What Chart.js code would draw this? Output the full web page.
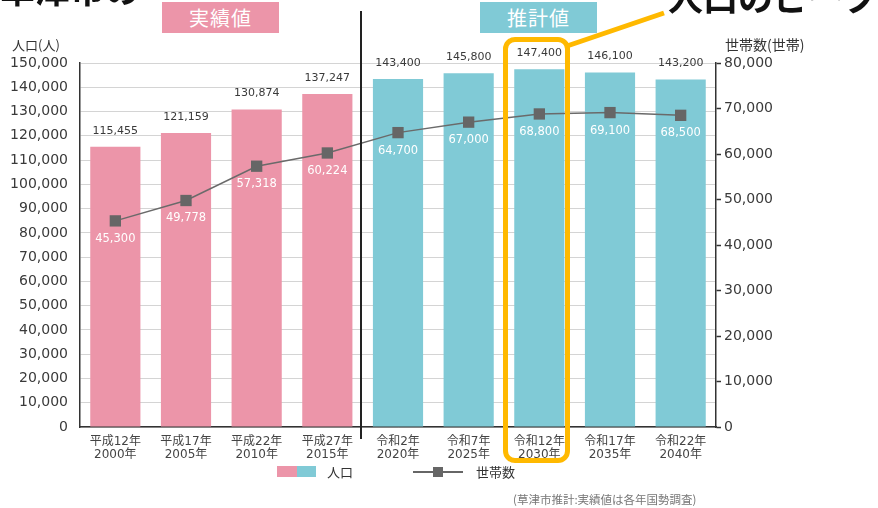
<!DOCTYPE html>
<html>
<head>
<meta charset="utf-8">
<script src="https://cdn.jsdelivr.net/npm/chart.js@4"></script>
<style>
  body { margin: 0; background: #fff; }
  #wrap { position: relative; width: 878px; height: 508px; overflow: hidden; font-family: 'Noto Sans CJK JP', sans-serif; color: #333; }
  #chart { position: absolute; left: 0; top: 0; }
  .abs { position: absolute; white-space: nowrap; }
  .head { top: 2px; height: 31px; width: 117px; color: #fff; font-size: 20px; line-height: 31px; text-align: center; letter-spacing: 1px; }
  .big { top: -22px; font-size: 35px; line-height: 36px; font-weight: bold; color: #111; }
</style>
</head>
<body>
<div id="wrap">
  <canvas id="chart" width="878" height="508"></canvas>

  <div class="abs big" style="left:0;top:-30px">草津市の</div>
  <div class="abs big" style="left:668px">人口のピーク</div>

  <div class="abs head" style="left:162px;background:#ec95a9">実績値</div>
  <div class="abs head" style="left:480px;background:#80cad6">推計値</div>

  <div class="abs" style="left:12px;top:35px;font-size:13px">人口(人)</div>
  <div class="abs" style="left:725px;top:34px;font-size:14px">世帯数(世帯)</div>

  <!-- divider between actual and estimate -->
  <div class="abs" style="left:360px;top:11px;width:1.5px;height:428px;background:#222"></div>

  <!-- legend -->
  <div class="abs" style="left:277px;top:466px;width:20px;height:11px;background:#ec95a9"></div>
  <div class="abs" style="left:297px;top:466px;width:19px;height:11px;background:#80cad6"></div>
  <div class="abs" style="left:327px;top:462px;font-size:13px">人口</div>
  <div class="abs" style="left:413px;top:471px;width:50px;height:1.5px;background:#666"></div>
  <div class="abs" style="left:433px;top:467px;width:10px;height:10px;background:#666"></div>
  <div class="abs" style="left:476px;top:462px;font-size:13px">世帯数</div>

  <div class="abs" style="left:513px;top:491px;font-size:11.5px;color:#777">(草津市推計:実績値は各年国勢調査)</div>

  <!-- highlight box + callout -->
  <div class="abs" style="left:503px;top:37px;width:67px;height:426px;box-sizing:border-box;border:5px solid #ffb900;border-radius:12px"></div>
  <svg class="abs" style="left:0;top:0" width="878" height="508">
    <line x1="567" y1="46" x2="664" y2="13" stroke="#ffb900" stroke-width="5"/>
  </svg>
</div>

<script>
// categories (two line labels)
const years = [
  ['平成12年', '2000年'], ['平成17年', '2005年'], ['平成22年', '2010年'], ['平成27年', '2015年'],
  ['令和2年', '2020年'], ['令和7年', '2025年'], ['令和12年', '2030年'], ['令和17年', '2035年'], ['令和22年', '2040年']
]
const phase = ['実績', '実績', '実績', '実績', '推計', '推計', '推計', '推計', '推計']
const population = [115455, 121159, 130874, 137247, 143400, 145800, 147400, 146100, 143200]
const households = [45300, 49778, 57318, 60224, 64700, 67000, 68800, 69100, 68500]

function getColor(p) {
    if (p === '実績') {
        return '#ec95a9'
    }
    return '#80cad6'
}

function fmt(v) {
    return v.toLocaleString('en-US')
}

Chart.defaults.font.family = "'DejaVu Sans', 'Noto Sans CJK JP', sans-serif"
Chart.defaults.color = '#3a3a3a'

// value labels above bars and under the markers
const valueLabels = {
    id: 'valueLabels',
    afterDatasetsDraw(chart) {
        const ctx = chart.ctx
        ctx.save()
        ctx.textAlign = 'center'
        ctx.textBaseline = 'middle'
        ctx.font = "11px 'DejaVu Sans'"
        ctx.fillStyle = '#3a3a3a'
        chart.getDatasetMeta(0).data.forEach((el, i) => {
            ctx.fillText(fmt(population[i]), el.x, el.y - 16)
        })
        ctx.font = "11.5px 'DejaVu Sans'"
        ctx.fillStyle = '#ffffff'
        chart.getDatasetMeta(1).data.forEach((el, i) => {
            ctx.fillText(fmt(households[i]), el.x, el.y + 18)
        })
        ctx.restore()
    }
}

new Chart(document.querySelector('#chart').getContext('2d'), {
    type: 'bar',
    data: {
        labels: years,
        datasets: [{
            label: '人口',
            data: population,
            backgroundColor: phase.map(p => getColor(p)),
            barPercentage: 0.71,
            categoryPercentage: 1,
            yAxisID: 'y',
            order: 2
        }, {
            type: 'line',
            label: '世帯数',
            data: households,
            borderColor: '#6a6a6a',
            borderWidth: 1.5,
            pointStyle: 'rect',
            pointRadius: 8,
            pointBackgroundColor: '#666',
            pointBorderWidth: 0,
            yAxisID: 'y2',
            order: 1
        }]
    },
    options: {
        responsive: false,
        devicePixelRatio: 1,
        animation: false,
        layout: { padding: { top: 63 } },
        plugins: { legend: { display: false }, tooltip: { enabled: false } },
        scales: {
            x: {
                grid: { display: false },
                border: { color: '#333', width: 1.5 },
                ticks: { font: { size: 12, lineHeight: 1.1 }, color: '#444', padding: 0, maxRotation: 0, autoSkip: false },
                afterFit: s => { s.height = 81 }
            },
            y: {
                position: 'left',
                min: 0,
                max: 150000,
                grid: { color: '#d4d4d4', drawTicks: false },
                border: { color: '#333', width: 1.5 },
                ticks: { stepSize: 10000, padding: 12, font: { size: 14 }, color: '#3a3a3a', callback: v => fmt(v) },
                afterFit: s => { s.width = 80 }
            },
            y2: {
                position: 'right',
                min: 0,
                max: 80000,
                grid: { drawOnChartArea: false, tickLength: 5, color: '#333', tickWidth: 1.5 },
                border: { color: '#333', width: 1.5 },
                ticks: { stepSize: 10000, padding: 3, font: { size: 14 }, color: '#3a3a3a', callback: v => fmt(v) },
                afterFit: s => { s.width = 162 }
            }
        }
    },
    plugins: [valueLabels]
})
</script>
</body>
</html>
